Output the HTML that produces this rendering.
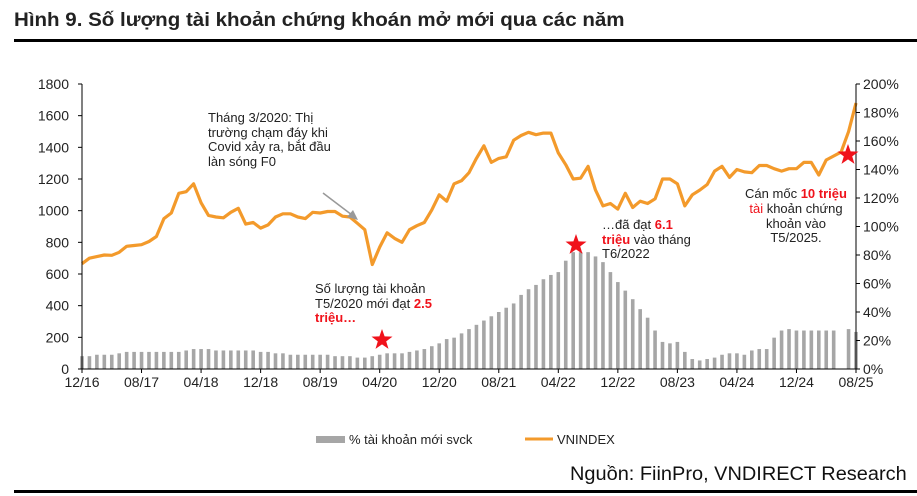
<!DOCTYPE html>
<html><head><meta charset="utf-8"><style>
body{margin:0;background:#fff;width:917px;height:496px;overflow:hidden;position:relative;font-family:"Liberation Sans",sans-serif}
.t{position:absolute;white-space:nowrap}
</style></head><body>
<div class="t" style="left:14px;top:10px;font-size:19px;font-weight:bold;color:#222;transform:scaleX(1.08);transform-origin:left top">Hình 9. Số lượng tài khoản chứng khoán mở mới qua các năm</div>
<div style="position:absolute;left:14px;top:39px;width:903px;height:3px;background:#000"></div>
<div class="t" style="left:570px;top:464px;font-size:19px;color:#111;transform:scaleX(1.05);transform-origin:left top">Nguồn: FiinPro, VNDIRECT Research</div>
<div style="position:absolute;left:14px;top:490px;width:903px;height:3px;background:#000"></div>
<svg id="s" width="917" height="496" style="position:absolute;left:0;top:0" font-family="Liberation Sans, sans-serif"></svg>
<script>
var v=[665,700,710,720,718,737,775,780,785,805,837,950,985,1110,1120,1170,1050,970,960,955,990,1015,915,925,890,910,960,980,980,960,950,990,985,995,995,965,960,920,880,660,770,860,825,800,880,905,925,1005,1100,1060,1170,1190,1240,1330,1410,1305,1330,1340,1445,1475,1495,1480,1490,1490,1365,1290,1200,1205,1280,1130,1030,1045,1010,1110,1020,1060,1045,1075,1200,1200,1170,1030,1100,1130,1165,1250,1280,1210,1260,1245,1240,1285,1285,1265,1250,1265,1265,1305,1305,1225,1320,1345,1370,1500,1680];
var b=[9,9,10,10,10,11,12,12,12,12,12,12,12,12,13,14,14,14,13,13,13,13,13,13,12,12,11,11,10,10,10,10,10,10,9,9,9,8,8,9,10,11,11,11,12,13,14,16,18,21,22,25,28,31,34,37,40,43,46,52,56,59,63,66,68,76,82,82,82,79,75,68,61,55,49,42,36,27,19,18,19,12,7,6,7,8,10,11,11,10,13,14,14,22,27,28,27,27,27,27,27,27,0,28,26,0];
var L=82,R=856,T=84,B=369,n=104,dx=(R-L)/n;
function X(i){return L+i*dx}function Y(val){return B-val/1800*(B-T)}function Yp(p){return B-p/200*(B-T)}
var h='';
for(var i=0;i<=n;i++){if(b[i]>0){h+='<rect x="'+(X(i)-1.8)+'" y="'+Yp(b[i])+'" width="3.6" height="'+(B-Yp(b[i]))+'" fill="#a6a6a6"/>';}}
var p='';for(var i=0;i<=n;i++)p+=(i?'L':'M')+X(i).toFixed(1)+','+Y(v[i]).toFixed(1);
h+='<path d="'+p+'" fill="none" stroke="#f39a2b" stroke-width="3.2" stroke-linejoin="round"/>';
h+='<line x1="'+L+'" y1="'+T+'" x2="'+L+'" y2="'+B+'" stroke="#000"/><line x1="'+R+'" y1="'+T+'" x2="'+R+'" y2="'+B+'" stroke="#000"/><line x1="'+L+'" y1="'+B+'" x2="'+R+'" y2="'+B+'" stroke="#000"/>';
for(var k=0;k<=9;k++){var y=Y(k*200);h+='<line x1="'+(L-4)+'" y1="'+y+'" x2="'+L+'" y2="'+y+'" stroke="#000"/><text x="'+(L-13)+'" y="'+(y+5)+'" font-size="14" text-anchor="end" fill="#222">'+k*200+'</text>';}
for(var k=0;k<=10;k++){var y=Yp(k*20);h+='<line x1="'+R+'" y1="'+y+'" x2="'+(R+4)+'" y2="'+y+'" stroke="#000"/><text x="'+(R+7)+'" y="'+(y+5)+'" font-size="14" fill="#222">'+k*20+'%</text>';}
var lb=['12/16','08/17','04/18','12/18','08/19','04/20','12/20','08/21','04/22','12/22','08/23','04/24','12/24','08/25'];
for(var k=0;k<14;k++){var x=X(k*8);h+='<line x1="'+x+'" y1="'+B+'" x2="'+x+'" y2="'+(B+4)+'" stroke="#000"/><text x="'+x+'" y="'+(B+18)+'" font-size="14" text-anchor="middle" fill="#222">'+lb[k]+'</text>';}
function star(cx,cy,r){var s='';for(var j=0;j<10;j++){var a=-Math.PI/2+j*Math.PI/5,rr=j%2?r*0.4:r;s+=(j?'L':'M')+(cx+rr*Math.cos(a)).toFixed(1)+','+(cy+rr*Math.sin(a)).toFixed(1);}return '<path d="'+s+'Z" fill="#f0121b"/>';}
h+=star(382,340,11)+star(576,245,11)+star(848,155,11);
h+='<line x1="323" y1="193" x2="352" y2="215" stroke="#999" stroke-width="1.5"/><path d="M358,220 L347,217 L353,210Z" fill="#999"/>';
function tx(x,y,s,a){return '<text x="'+x+'" y="'+y+'" font-size="13" fill="#222"'+(a?' text-anchor="'+a+'"':'')+'>'+s+'</text>';}
var red='<tspan fill="#f0121b" font-weight="bold">';
h+=tx(208,122,'Tháng 3/2020: Thị')+tx(208,137,'trường chạm đáy khi')+tx(208,151,'Covid xảy ra, bắt đầu')+tx(208,166,'làn sóng F0');
h+=tx(315,293,'Số lượng tài khoản')+tx(315,308,'T5/2020 mới đạt '+red+'2.5</tspan>')+tx(315,322,red+'triệu…</tspan>');
h+=tx(602,229,'…đã đạt '+red+'6.1</tspan>')+tx(602,244,red+'triệu</tspan> vào tháng')+tx(602,258,'T6/2022');
h+=tx(796,198,'Cán mốc '+red+'10 triệu</tspan>','middle')+tx(796,213,'<tspan fill="#f0121b">tài</tspan> khoản chứng','middle')+tx(796,228,'khoản vào','middle')+tx(796,242,'T5/2025.','middle');
h+='<rect x="316" y="436" width="29" height="7" fill="#a6a6a6"/><text x="349" y="444" font-size="13" fill="#222">% tài khoản mới svck</text>';
h+='<line x1="525" y1="439" x2="553" y2="439" stroke="#f39a2b" stroke-width="3"/><text x="557" y="444" font-size="13" fill="#222">VNINDEX</text>';
document.getElementById('s').innerHTML=h;
</script>
</body></html>
